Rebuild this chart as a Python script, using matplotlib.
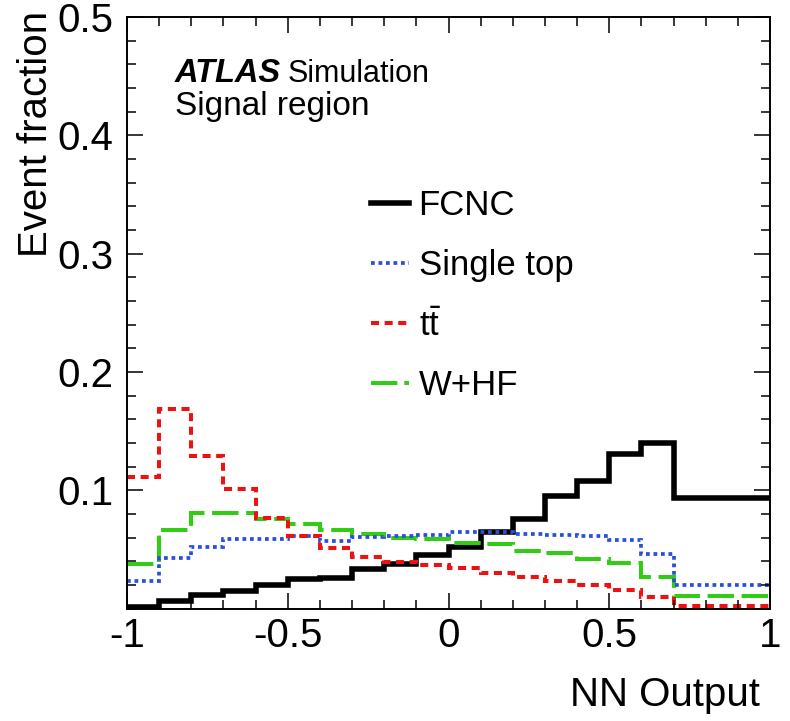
import matplotlib
matplotlib.use("Agg")
import matplotlib.pyplot as plt
from matplotlib.lines import Line2D
from matplotlib.ticker import MultipleLocator, FixedLocator

plt.rcParams['font.family'] = ['Liberation Sans', 'DejaVu Sans']
plt.rcParams['mathtext.fontset'] = 'custom'
plt.rcParams['mathtext.rm'] = 'Liberation Sans'
plt.rcParams['mathtext.it'] = 'Liberation Sans:italic'
plt.rcParams['lines.scale_dashes'] = False

# ---- data ----
edges = [-1.0, -0.9, -0.8, -0.7, -0.6, -0.5, -0.4, -0.3, -0.2, -0.1,
         0.0, 0.1, 0.2, 0.3, 0.4, 0.5, 0.6, 0.7, 1.0]
fcnc = [0.001, 0.006, 0.011, 0.015, 0.020, 0.025, 0.026, 0.033, 0.038, 0.045,
        0.052, 0.065, 0.076, 0.095, 0.108, 0.131, 0.140, 0.093]
single_top = [0.023, 0.0430, 0.052, 0.0585, 0.0585, 0.0613, 0.057, 0.0605, 0.061, 0.062,
              0.065, 0.065, 0.063, 0.062, 0.0614, 0.058, 0.0458, 0.020]
ttbar = [0.111, 0.1685, 0.129, 0.101, 0.0763, 0.0616, 0.0509, 0.0438, 0.0396, 0.0368,
         0.034, 0.0303, 0.0269, 0.0233, 0.0199, 0.0157, 0.010, 0.0024]
whf = [0.0374, 0.0667, 0.081, 0.0805, 0.0760, 0.0714, 0.0664, 0.063, 0.0594, 0.0585,
       0.0552, 0.0544, 0.049, 0.0467, 0.0416, 0.0388, 0.0264, 0.0106]

labels = ['FCNC', 'Single top', r'$\mathrm{t\bar{t}}$', 'W+HF']
xtick_vals = [-1, -0.5, 0, 0.5, 1]
xtick_labels = ['-1', '-0.5', '0', '0.5', '1']
ytick_vals = [0.1, 0.2, 0.3, 0.4, 0.5]
ytick_labels = ['0.1', '0.2', '0.3', '0.4', '0.5']

c_black = '#000000'
c_blue = '#2a4fdc'
c_red = '#ee1111'
c_green = '#33cc14'

fig = plt.figure(figsize=(7.9, 7.21), dpi=100)
ax = fig.add_axes([127/790, 1 - 608.5/721, 643/790, 591.5/721])

s_fcnc = dict(color=c_black, lw=4.0, ls='-')
s_green = dict(color=c_green, lw=2.9, ls=(0, (19, 5.5)))
s_blue = dict(color=c_blue, lw=2.7, ls=(0, (2.7, 2.7)))
s_red = dict(color=c_red, lw=2.9, ls=(0, (5.8, 4.0)))

ax.stairs(fcnc, edges, baseline=None, **s_fcnc)
ax.stairs(whf, edges, baseline=None, **s_green)
ax.stairs(single_top, edges, baseline=None, **s_blue)
ax.stairs(ttbar, edges, baseline=None, **s_red)

ax.set_xlim(-1, 1)
ax.set_ylim(0, 0.5)

ax.xaxis.set_major_locator(FixedLocator(xtick_vals))
ax.set_xticklabels(xtick_labels)
ax.xaxis.set_minor_locator(MultipleLocator(0.1))
ax.yaxis.set_major_locator(FixedLocator(ytick_vals))
ax.set_yticklabels(ytick_labels)
ax.yaxis.set_minor_locator(MultipleLocator(0.02))

ax.tick_params(which='both', direction='in', top=True, right=True, width=1.1)
ax.tick_params(which='major', length=11.5, labelsize=29)
ax.tick_params(which='minor', length=6.5)
ax.tick_params(axis='x', which='major', pad=6)
ax.tick_params(axis='y', which='major', pad=10)
for sp in ax.spines.values():
    sp.set_linewidth(1.4)

ax.set_xlabel('NN Output', fontsize=29, loc='right')
ax.xaxis.set_label_coords(0.985, -0.1145)
ax.set_ylabel('Event fraction', fontsize=29, loc='top')
ax.yaxis.set_label_coords(-0.112, 1.01)

t = ax.text(0.0747, 0.890, 'ATLAS', transform=ax.transAxes, fontsize=23.5,
            fontweight='bold', fontstyle='italic', va='baseline', ha='left')
ax.annotate('Simulation', xy=(1, 0), xycoords=t, xytext=(5, 0),
            textcoords='offset points', fontsize=22, va='bottom', ha='left')
ax.text(0.0747, 0.834, 'Signal region', transform=ax.transAxes, fontsize=24,
        va='baseline', ha='left')

handles = [
    Line2D([], [], **s_fcnc),
    Line2D([], [], **s_blue),
    Line2D([], [], **s_red),
    Line2D([], [], color=c_green, lw=2.9, ls=(0, (19, 5, 4.3, 5))),
]
ax.legend(handles, labels, loc='upper left', bbox_to_anchor=(0.3795, 0.7085),
          frameon=False, fontsize=25, handlelength=1.1, handletextpad=0.27,
          labelspacing=0.77, borderpad=0, borderaxespad=0)

fig.savefig('out.png', dpi=100)
